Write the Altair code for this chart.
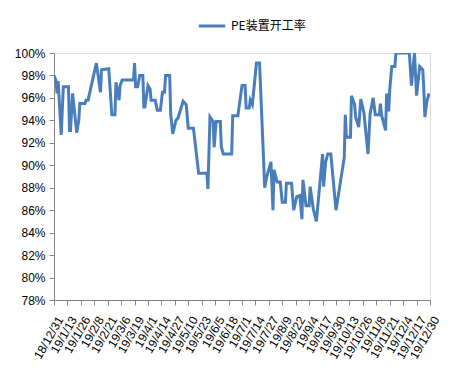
import altair as alt
import pandas as pd

SERIES = "PE装置开工率"

DATES = [
    "2018/12/31", "2019/01/02", "2019/01/03", "2019/01/04", "2019/01/07", "2019/01/09",
    "2019/01/14", "2019/01/15", "2019/01/16", "2019/01/18", "2019/01/22", "2019/01/24",
    "2019/01/25", "2019/01/30", "2019/01/31", "2019/02/02", "2019/02/10", "2019/02/14",
    "2019/02/15", "2019/02/22", "2019/02/25", "2019/02/28", "2019/03/01", "2019/03/04",
    "2019/03/05", "2019/03/07", "2019/03/18", "2019/03/19", "2019/03/20", "2019/03/22",
    "2019/03/24", "2019/03/27", "2019/03/28", "2019/03/29", "2019/04/01", "2019/04/03",
    "2019/04/04", "2019/04/08", "2019/04/10", "2019/04/13", "2019/04/15", "2019/04/17",
    "2019/04/18", "2019/04/22", "2019/04/23", "2019/04/25", "2019/04/28", "2019/04/30",
    "2019/05/05", "2019/05/08", "2019/05/10", "2019/05/15", "2019/05/16", "2019/05/20",
    "2019/05/28", "2019/05/29", "2019/05/31", "2019/06/03", "2019/06/04", "2019/06/06",
    "2019/06/10", "2019/06/11", "2019/06/13", "2019/06/21", "2019/06/22", "2019/06/27",
    "2019/07/01", "2019/07/04", "2019/07/05", "2019/07/08", "2019/07/09", "2019/07/11",
    "2019/07/15", "2019/07/18", "2019/07/23", "2019/07/25", "2019/07/29", "2019/07/31",
    "2019/08/01", "2019/08/04", "2019/08/07", "2019/08/09", "2019/08/12", "2019/08/13",
    "2019/08/18", "2019/08/20", "2019/08/23", "2019/08/26", "2019/08/28", "2019/08/29",
    "2019/09/01", "2019/09/04", "2019/09/05", "2019/09/08", "2019/09/11", "2019/09/17",
    "2019/09/18", "2019/09/20", "2019/09/22", "2019/09/25", "2019/09/26", "2019/09/30",
    "2019/10/08", "2019/10/09", "2019/10/10", "2019/10/14", "2019/10/15", "2019/10/18",
    "2019/10/19", "2019/10/22", "2019/10/24", "2019/10/27", "2019/10/31", "2019/11/02",
    "2019/11/05", "2019/11/07", "2019/11/11", "2019/11/12", "2019/11/13", "2019/11/17",
    "2019/11/18", "2019/11/20", "2019/11/21", "2019/11/23", "2019/11/26", "2019/11/27",
    "2019/12/10", "2019/12/12", "2019/12/15", "2019/12/17", "2019/12/20", "2019/12/23",
    "2019/12/24", "2019/12/25", "2019/12/27", "2019/12/29",
]

RATES = [
    98.0, 97.5, 96.4, 97.5, 92.7, 97.0,
    97.0, 93.1, 93.1, 96.4, 92.9, 94.0,
    95.5, 95.5, 95.8, 95.8, 99.1, 96.5,
    98.5, 98.6, 94.5, 94.5, 97.4, 95.8,
    97.1, 97.6, 97.6, 99.1, 97.0, 97.0,
    98.0, 98.0, 95.2, 95.2, 97.1, 96.8,
    95.8, 95.8, 94.9, 94.9, 96.5, 96.5,
    98.0, 98.0, 94.5, 92.8, 94.0, 94.2,
    95.7, 95.4, 93.3, 93.3, 92.5, 89.3,
    89.3, 87.9, 94.3, 93.9, 91.6, 93.9,
    93.9, 91.6, 91.0, 91.0, 94.4, 94.4,
    97.1, 97.1, 95.1, 95.1, 95.8, 95.4,
    99.1, 99.1, 88.0, 89.0, 90.3, 86.0,
    89.6, 88.5, 88.5, 86.7, 86.7, 88.4,
    88.4, 86.0, 87.2, 87.3, 85.2, 88.7,
    86.4, 86.4, 88.1, 86.1, 85.0, 91.0,
    88.1, 90.3, 91.0, 91.0, 90.0, 86.0,
    90.7, 94.5, 92.5, 92.5, 96.2, 95.4,
    94.3, 93.4, 95.9, 94.7, 91.0, 94.6,
    96.0, 94.5, 94.5, 95.5, 94.5, 93.1,
    96.4, 94.8, 96.7, 98.8, 98.8, 100.0,
    100.0, 97.1, 100.0, 96.2, 98.8, 98.5,
    96.8, 94.3, 95.7, 96.4,
]

TICK_DATES = [
    "2018/12/31", "2019/1/13", "2019/1/26", "2019/2/8", "2019/2/21", "2019/3/6",
    "2019/3/19", "2019/4/1", "2019/4/14", "2019/4/27", "2019/5/10", "2019/5/23",
    "2019/6/5", "2019/6/18", "2019/7/1", "2019/7/14", "2019/7/27", "2019/8/9",
    "2019/8/22", "2019/9/4", "2019/9/17", "2019/9/30", "2019/10/13", "2019/10/26",
    "2019/11/8", "2019/11/21", "2019/12/4", "2019/12/17", "2019/12/30",
]

Y_TICKS = [78, 80, 82, 84, 86, 88, 90, 92, 94, 96, 98, 100]


def to_dt(s):
    y, m, d = (int(p) for p in s.split("/"))
    return alt.DateTime(year=y, month=m, date=d)


df = pd.DataFrame({"date": DATES, "rate": RATES, "series": SERIES})

AXIS_GRAY = "#868686"
FONT = "Liberation Sans"

line = alt.Chart(df).mark_line(strokeWidth=3, clip=True).encode(
    x=alt.X(
        "date:T",
        scale=alt.Scale(domain=[to_dt(TICK_DATES[0]), to_dt(TICK_DATES[-1])]),
        axis=alt.Axis(
            values=[to_dt(s) for s in TICK_DATES],
            format="%y/%-m/%-d",
            labelAngle=-60,
            labelAlign="right",
            labelBaseline="middle",
            labelPadding=12,
            labelOffset=6,
            labelFontSize=12,
            labelFont=FONT,
            labelColor="#000000",
            labelOverlap=False,
            labelBound=False,
            labelFlush=False,
            grid=False,
            title=None,
            domainColor=AXIS_GRAY,
            tickColor=AXIS_GRAY,
            tickSize=5,
        ),
    ),
    y=alt.Y(
        "rate:Q",
        scale=alt.Scale(domain=[78, 100], nice=False, zero=False),
        axis=alt.Axis(
            values=Y_TICKS,
            labelExpr="datum.value + '%'",
            labelFontSize=12,
            labelFont=FONT,
            labelColor="#000000",
            labelPadding=4,
            grid=False,
            title=None,
            domainColor=AXIS_GRAY,
            tickColor=AXIS_GRAY,
            tickSize=5,
        ),
    ),
    color=alt.Color(
        "series:N",
        scale=alt.Scale(range=["#4A7EBB"]),
        legend=alt.Legend(
            title=None,
            orient="none",
            legendX=143,
            legendY=-42,
            symbolType="stroke",
            symbolStrokeWidth=3,
            symbolSize=700,
            labelFontSize=12,
            labelFont="Noto Sans CJK SC",
            labelColor="#000000",
        ),
    ),
)

chart = line.properties(
    width=376,
    height=247,
    autosize=alt.AutoSizeParams(type="none"),
    padding={"left": 46, "top": 45, "right": 15, "bottom": 77},
).configure_view(stroke=None).configure(background="#ffffff")

chart.save("out.html", embed_options={"renderer": "svg", "actions": False})
